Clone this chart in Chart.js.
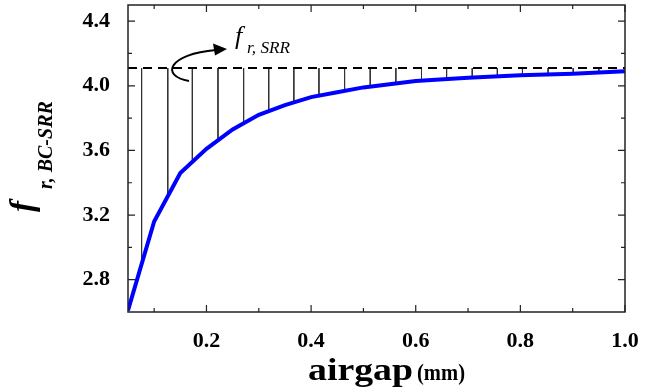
<!DOCTYPE html>
<html>
<head>
<meta charset="utf-8">
<script src="https://cdn.jsdelivr.net/npm/chart.js@4.4.0/dist/chart.umd.min.js"></script>
<style>
  html, body { margin: 0; padding: 0; background: #fff; }
</style>
</head>
<body>
<canvas id="airgapChart" width="665" height="392"></canvas>
<script>
// values
const airgap = [0.05, 0.1, 0.15, 0.2, 0.25, 0.3, 0.35, 0.4, 0.45, 0.5, 0.6, 0.7, 0.8, 0.9, 1.0];
const fBcSrr = [2.61, 3.16, 3.46, 3.61, 3.73, 3.82, 3.88, 3.93, 3.96, 3.99, 4.03, 4.05, 4.065, 4.075, 4.09];
const fSrr = 4.11;
const hatchX = [0.076, 0.126, 0.173, 0.222, 0.271, 0.319, 0.367, 0.415, 0.464, 0.513,
                0.562, 0.611, 0.659, 0.708, 0.756, 0.804, 0.853, 0.901, 0.950];
const xTicks = [0.2, 0.4, 0.6, 0.8, 1.0];
const xMinor = [0.1, 0.3, 0.5, 0.7, 0.9];
const yTicks = [2.8, 3.2, 3.6, 4.0, 4.4];
const yMinor = [3.0, 3.4, 3.8, 4.2];

const SERIF = "'Liberation Serif', 'Times New Roman', serif";

function curveAt(x) {
    for (let i = 0; i < airgap.length - 1; i++) {
        if (x >= airgap[i] && x <= airgap[i + 1]) {
            const t = (x - airgap[i]) / (airgap[i + 1] - airgap[i]);
            return fBcSrr[i] + t * (fBcSrr[i + 1] - fBcSrr[i]);
        }
    }
    return fBcSrr[fBcSrr.length - 1];
}

const curvePoints = airgap.map((x, i) => ({ x: x, y: fBcSrr[i] }));
const hatchPoints = [];
hatchX.forEach((x) => {
    hatchPoints.push({ x: x, y: fSrr });
    hatchPoints.push({ x: x, y: curveAt(x) });
    hatchPoints.push({ x: x, y: null });
});

const framePlugin = {
    id: "frame",
    afterDraw(chart) {
        const { ctx, chartArea: a, scales: { x, y } } = chart;
        ctx.save();
        ctx.strokeStyle = "#222";
        ctx.lineWidth = 1.5;
        ctx.strokeRect(a.left, a.top, a.right - a.left, a.bottom - a.top);

        ctx.lineWidth = 1.2;
        ctx.beginPath();
        const xt = (v, len) => {
            const p = x.getPixelForValue(v);
            ctx.moveTo(p, a.bottom); ctx.lineTo(p, a.bottom - len);
            ctx.moveTo(p, a.top); ctx.lineTo(p, a.top + len);
        };
        const yt = (v, len) => {
            const p = y.getPixelForValue(v);
            ctx.moveTo(a.left, p); ctx.lineTo(a.left + len, p);
            ctx.moveTo(a.right, p); ctx.lineTo(a.right - len, p);
        };
        xTicks.forEach((v) => xt(v, 7));
        xMinor.forEach((v) => xt(v, 4));
        yTicks.forEach((v) => yt(v, 7));
        yMinor.forEach((v) => yt(v, 4));
        ctx.stroke();

        ctx.fillStyle = "#000";
        ctx.textBaseline = "alphabetic";
        ctx.textAlign = "left";

        // x axis title
        ctx.font = "bold 31px " + SERIF;
        let w1 = ctx.measureText("airgap").width;
        ctx.save();
        ctx.translate(308, 380);
        ctx.scale(105 / w1, 1);
        ctx.fillText("airgap", 0, 0);
        ctx.restore();
        ctx.font = "bold 23px " + SERIF;
        let w2 = ctx.measureText("(mm)").width;
        ctx.save();
        ctx.translate(417, 380);
        ctx.scale(48 / w2, 1);
        ctx.fillText("(mm)", 0, 0);
        ctx.restore();

        // y axis title
        ctx.save();
        ctx.translate(33, 212);
        ctx.rotate(-Math.PI / 2);
        ctx.font = "italic bold 33px " + SERIF;
        ctx.fillText("f", 0, 0);
        ctx.font = "italic bold 20px " + SERIF;
        ctx.fillText("r, BC-SRR", 23, 19);
        ctx.restore();

        // annotation f_r,SRR with curved arrow
        ctx.font = "italic 26px " + SERIF;
        ctx.fillText("f", 235, 44);
        ctx.font = "italic 16px " + SERIF;
        ctx.save();
        const w3 = ctx.measureText("r, SRR").width;
        ctx.translate(247, 53);
        ctx.scale(43 / w3, 1);
        ctx.fillText("r, SRR", 0, 0);
        ctx.restore();

        ctx.strokeStyle = "#000";
        ctx.lineWidth = 2;
        ctx.beginPath();
        ctx.moveTo(189, 81);
        ctx.bezierCurveTo(160, 76, 168, 54, 216, 50);
        ctx.stroke();
        ctx.beginPath();
        ctx.moveTo(227, 49);
        ctx.lineTo(213, 43.5);
        ctx.lineTo(215, 55.5);
        ctx.closePath();
        ctx.fill();
        ctx.restore();
    },
};

const tickFont = { family: SERIF, size: 22, weight: "bold" };

new Chart(document.getElementById("airgapChart"), {
    type: "scatter",
    data: {
        datasets: [
            {
                label: "f r, BC-SRR",
                data: curvePoints,
                showLine: true,
                borderColor: "#0000ff",
                borderWidth: 4,
                pointRadius: 0,
                tension: 0,
                order: 1,
            },
            {
                label: "f r, SRR",
                data: [{ x: 0.05, y: fSrr }, { x: 1.0, y: fSrr }],
                showLine: true,
                borderColor: "#000",
                borderWidth: 2,
                borderDash: [9, 6],
                pointRadius: 0,
                order: 2,
            },
            {
                label: "hatch",
                data: hatchPoints,
                showLine: true,
                spanGaps: false,
                borderColor: "#333",
                borderWidth: 1,
                pointRadius: 0,
                order: 3,
            },
        ],
    },
    options: {
        responsive: false,
        animation: false,
        layout: { padding: { left: 0, right: 40, top: 5, bottom: 0 } },
        plugins: {
            legend: { display: false },
            tooltip: { enabled: false },
        },
        scales: {
            x: {
                type: "linear",
                min: 0.05,
                max: 1.0,
                afterBuildTicks: (s) => { s.ticks = xTicks.map((v) => ({ value: v })); },
                afterFit: (s) => { s.height = 80; s.paddingLeft = 0; s.paddingRight = 0; },
                grid: { display: false },
                border: { display: false },
                ticks: {
                    font: tickFont,
                    color: "#000",
                    padding: 8,
                    maxRotation: 0,
                    autoSkip: false,
                    callback: (v) => Number(v).toFixed(1),
                },
            },
            y: {
                type: "linear",
                min: 2.6,
                max: 4.5,
                afterBuildTicks: (s) => { s.ticks = yTicks.map((v) => ({ value: v })); },
                afterFit: (s) => { s.width = 128; s.paddingTop = 0; s.paddingBottom = 0; },
                grid: { display: false },
                border: { display: false },
                ticks: {
                    font: tickFont,
                    color: "#000",
                    padding: 10,
                    autoSkip: false,
                    callback: (v) => Number(v).toFixed(1),
                },
            },
        },
    },
    plugins: [framePlugin],
});
</script>
</body>
</html>
